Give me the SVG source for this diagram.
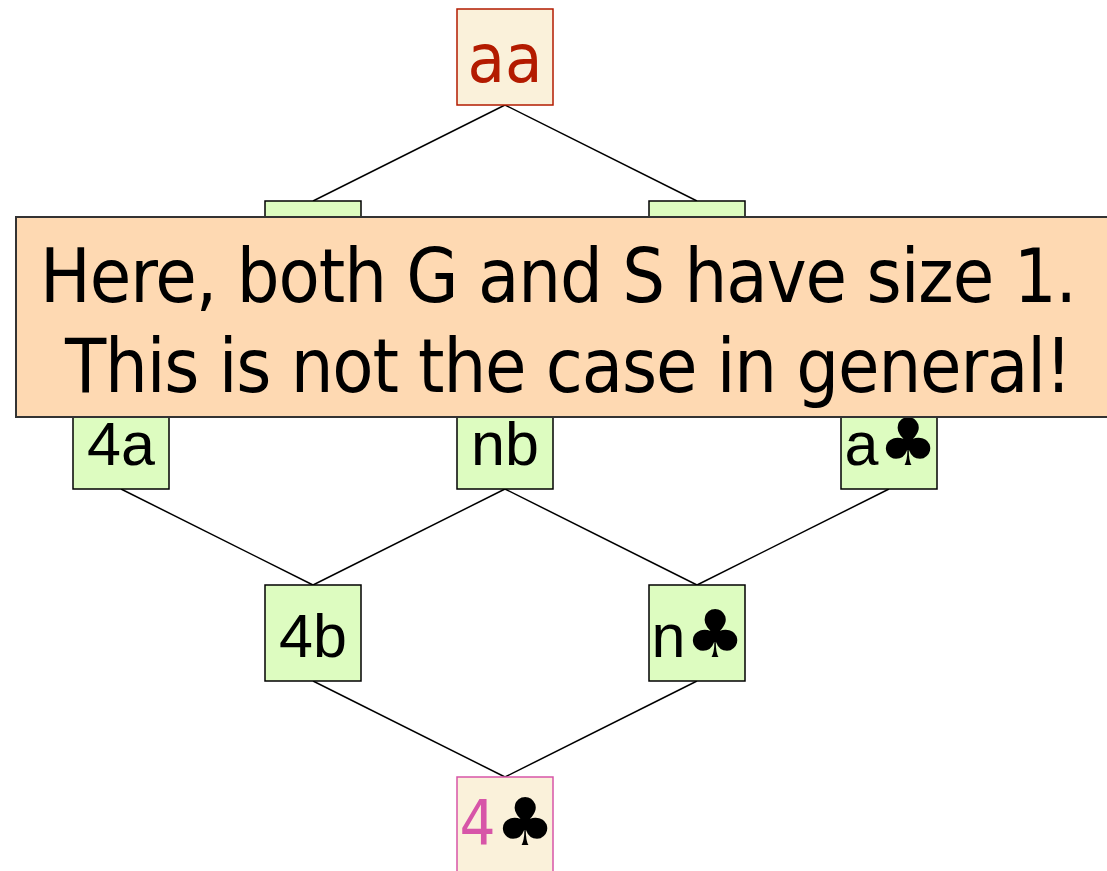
<svg xmlns="http://www.w3.org/2000/svg" width="1107" height="871" viewBox="0 0 1107 871">
  <style>
    .box { fill: #ddfcc0; stroke: #000; stroke-width: 1.5; }
    .top { fill: #faf1da; stroke: #b31b00; stroke-width: 1.5; }
    .bottom { fill: #faf1da; stroke: #d755a8; stroke-width: 1.5; }
    .lbl { font-family: "Liberation Sans", Arial, sans-serif; font-size: 61px; text-anchor: middle; fill: #000; }
    .tlbl { font-family: "DejaVu Sans Condensed", "DejaVu Sans", sans-serif; font-size: 66px; text-anchor: middle; }
    .club { font-family: "DejaVu Sans", sans-serif; font-size: 66px; fill: #000; }
    .edge { stroke: #000; stroke-width: 1.5; fill: none; }
    .note { fill: #fed9b2; stroke: #333; stroke-width: 2; }
    .notetext { font-family: "DejaVu Sans Condensed", "DejaVu Sans", "Liberation Sans", sans-serif; font-size: 75px; fill: #000; }
  </style>

  <!-- lattice edges -->
  <g id="connectors">
    <line class="edge" x1="505" y1="105" x2="313" y2="201"/>
    <line class="edge" x1="505" y1="105" x2="697" y2="201"/>
    <line class="edge" x1="121" y1="489" x2="313" y2="585"/>
    <line class="edge" x1="505" y1="489" x2="313" y2="585"/>
    <line class="edge" x1="505" y1="489" x2="697" y2="585"/>
    <line class="edge" x1="889" y1="489" x2="697" y2="585"/>
    <line class="edge" x1="313" y1="681" x2="505" y2="777"/>
    <line class="edge" x1="697" y1="681" x2="505" y2="777"/>
  </g>

  <g id="node-aa">
    <rect class="top" x="457" y="9" width="96" height="96"/>
    <text class="tlbl" x="505" y="82" style="fill:#b31b00; font-size:68px">aa</text>
  </g>

  <g id="node-g1">
    <rect class="box" x="265" y="201" width="96" height="96"/>
  </g>
  <g id="node-g2">
    <rect class="box" x="649" y="201" width="96" height="96"/>
  </g>

  <g id="node-4a">
    <rect class="box" x="73" y="393" width="96" height="96"/>
    <text class="lbl" x="121" y="465">4a</text>
  </g>
  <g id="node-nb">
    <rect class="box" x="457" y="393" width="96" height="96"/>
    <text class="lbl" x="505" y="465">nb</text>
  </g>
  <g id="node-aclub">
    <rect class="box" x="841" y="393" width="96" height="96"/>
    <text class="lbl" x="891" y="465">a<tspan class="club">♣</tspan></text>
  </g>

  <g id="node-4b">
    <rect class="box" x="265" y="585" width="96" height="96"/>
    <text class="lbl" x="313" y="657">4b</text>
  </g>
  <g id="node-nclub">
    <rect class="box" x="649" y="585" width="96" height="96"/>
    <text class="lbl" x="698" y="657">n<tspan class="club">♣</tspan></text>
  </g>

  <g id="node-4club">
    <rect class="bottom" x="457" y="777" width="96" height="96"/>
    <text class="tlbl" x="507" y="845"><tspan style="fill:#d755a8; font-size:63px">4</tspan><tspan class="club">♣</tspan></text>
  </g>

  <!-- callout banner laid over the middle rows -->
  <g id="note">
    <rect class="note" x="16" y="217" width="1093" height="200"/>
    <text class="notetext" x="40" y="302" textLength="1037" lengthAdjust="spacing">Here, both G and S have size 1.</text>
    <text class="notetext" x="65" y="392" textLength="1007" lengthAdjust="spacing">This is not the case in general!</text>
  </g>
</svg>
